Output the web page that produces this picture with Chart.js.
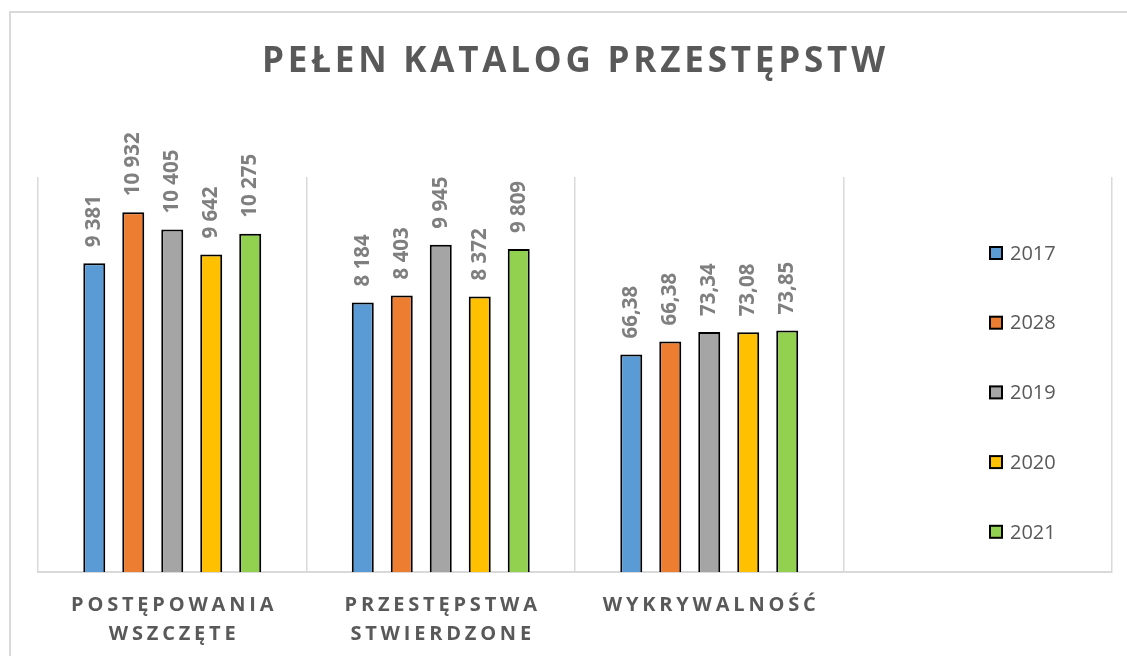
<!DOCTYPE html>
<html lang="pl">
<head>
<meta charset="utf-8">
<title>Pełen katalog przestępstw</title>
<script src="https://cdn.jsdelivr.net/npm/chart.js@4.4.1/dist/chart.umd.min.js"></script>
<style>
  html, body { margin: 0; padding: 0; background: #fff; overflow: hidden; }
  .frame { position: absolute; left: 9px; top: 11px; width: 1300px; height: 800px; border: 2px solid #d9d9d9; }
  #chart { position: absolute; left: 0; top: 0; }
</style>
</head>
<body>
<div class="frame"></div>
<canvas id="chart" width="1127" height="656"></canvas>
<script>
/* Pełen katalog przestępstw — grouped bars, Excel-like look */

// ---- data ----
const title = "PEŁEN KATALOG PRZESTĘPSTW";
const categories = [["POSTĘPOWANIA", "WSZCZĘTE"], ["PRZESTĘPSTWA", "STWIERDZONE"], ["WYKRYWALNOŚĆ"], [""]];
const years = ["2017", "2028", "2019", "2020", "2021"];

// bar heights as drawn (third group is plotted on the same axis as the counts)
const v2017 = [9381, 8184, 6610];
const v2028 = [10932, 8403, 7000];
const v2019 = [10405, 9945, 7290];
const v2020 = [9642, 8372, 7280];
const v2021 = [10275, 9809, 7340];

// data labels as printed above the bars
const t2017 = ["9 381", "8 184", "66,38"];
const t2028 = ["10 932", "8 403", "66,38"];
const t2019 = ["10 405", "9 945", "73,34"];
const t2020 = ["9 642", "8 372", "73,08"];
const t2021 = ["10 275", "9 809", "73,85"];

const yMax = 12000;

// ---- theme ----
const C = {
  bars: ["#5B9BD5", "#ED7D31", "#A5A5A5", "#FFC000", "#92D050"],
  ink: "#595959",
  label: "#7f7f7f",
  grid: "#d9d9d9",
};
const FONT = "'Open Sans', 'DejaVu Sans', sans-serif";

const values = [v2017, v2028, v2019, v2020, v2021];
const texts = [t2017, t2028, t2019, t2020, t2021];

// draw text with letter spacing, centred on x
function spacedText(ctx, str, x, y, spacing) {
  ctx.save();
  ctx.letterSpacing = spacing + "px";
  const w = ctx.measureText(str).width - spacing;
  ctx.textAlign = "left";
  ctx.fillText(str, x - w / 2, y);
  ctx.restore();
}

const decor = {
  id: "decor",
  afterDatasetsDraw(chart) {
    const ctx = chart.ctx;
    const x = chart.scales.x;

    // data labels, rotated, above each bar
    ctx.save();
    ctx.font = "bold 20.5px " + FONT;
    ctx.fillStyle = C.label;
    chart.data.datasets.forEach((ds, di) => {
      const meta = chart.getDatasetMeta(di);
      meta.data.forEach((bar, i) => {
        const txt = texts[di][i];
        if (!txt) return;
        ctx.save();
        ctx.translate(bar.x, bar.y - 16);
        ctx.rotate(-Math.PI / 2);
        ctx.textAlign = "left";
        ctx.textBaseline = "middle";
        ctx.fillText(txt, 0, 0);
        ctx.restore();
      });
    });
    ctx.restore();

    // category labels under the axis
    ctx.save();
    ctx.font = "bold 20px " + FONT;
    ctx.fillStyle = C.ink;
    ctx.textBaseline = "alphabetic";
    chart.data.labels.forEach((lab, i) => {
      const cx = x.getPixelForValue(i);
      lab.forEach((line, li) => spacedText(ctx, line, cx, chart.chartArea.bottom + 39 + li * 29, 3.8));
    });
    ctx.restore();

    // title
    ctx.save();
    ctx.font = "bold 35px " + FONT;
    ctx.fillStyle = C.ink;
    spacedText(ctx, title, 573.5, 72, 3.8);
    ctx.restore();

    // legend, stacked on the right
    ctx.save();
    ctx.font = "20px " + FONT;
    ctx.textBaseline = "middle";
    ctx.textAlign = "left";
    chart.data.datasets.forEach((ds, di) => {
      const y = 253 + di * 69.7;
      ctx.fillStyle = ds.backgroundColor;
      ctx.fillRect(990, y - 6, 12, 12);
      ctx.strokeStyle = "#000";
      ctx.lineWidth = 2;
      ctx.strokeRect(990, y - 6, 12, 12);
      ctx.fillStyle = C.ink;
      ctx.fillText(ds.label, 1010, y + 1);
    });
    ctx.restore();
  },
};

new Chart(document.getElementById("chart"), {
  type: "bar",
  data: {
    labels: categories,
    datasets: years.map((y, i) => ({
      label: y,
      data: values[i],
      backgroundColor: C.bars[i],
      borderColor: "#000",
      borderWidth: 2,
      categoryPercentage: 0.726,
      barPercentage: 0.564,
    })),
  },
  options: {
    responsive: false,
    devicePixelRatio: 1,
    animation: false,
    layout: { padding: { left: 38, right: 15, top: 177, bottom: 84 } },
    scales: {
      x: {
        grid: { display: true, offset: true, color: C.grid, lineWidth: 1.5, drawTicks: false },
        border: { display: true, color: C.grid, width: 2 },
        ticks: { display: false },
      },
      y: { display: false, min: 0, max: yMax },
    },
    plugins: {
      legend: { display: false },
      tooltip: { enabled: false },
    },
  },
  plugins: [decor],
});
</script>
</body>
</html>
